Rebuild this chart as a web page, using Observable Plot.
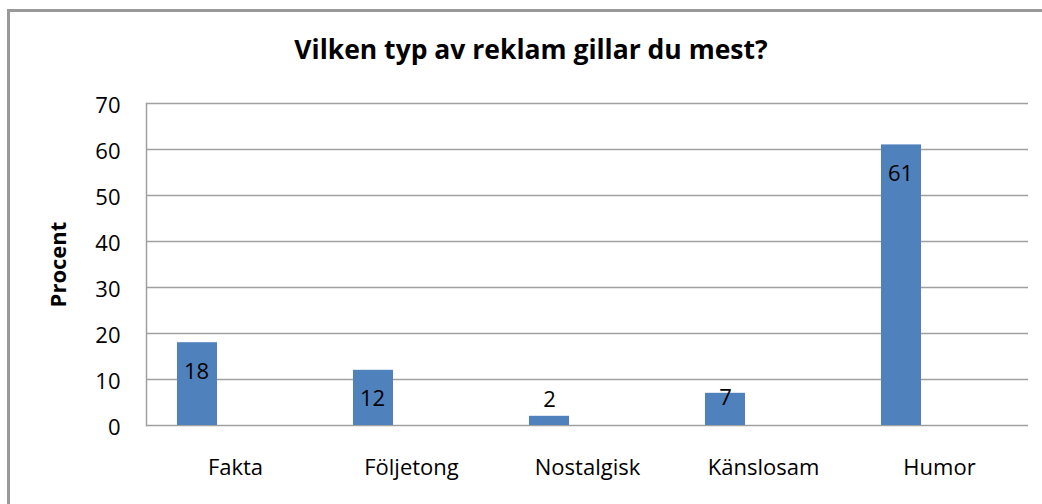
<!DOCTYPE html>
<html>
<head>
<meta charset="utf-8">
<script src="https://cdn.jsdelivr.net/npm/d3@7"></script>
<script src="https://cdn.jsdelivr.net/npm/@observablehq/plot@0.6"></script>
<style>
  html, body { margin: 0; padding: 0; background: #fff; }
  #chart { position: relative; width: 1042px; height: 504px; overflow: hidden; font-family: "Open Sans", sans-serif; }
  #frame { position: absolute; left: 7px; top: 9px; right: -5px; bottom: -5px; border-top: 3px solid #999; border-left: 3px solid #999; }
  #title { position: absolute; left: 531px; top: 34px; transform: translateX(-50%); white-space: nowrap;
           font-size: 26.5px; line-height: 30px; font-weight: 700; color: #000; margin: 0; }
  #plot { position: absolute; left: 0; top: 0; }
</style>
</head>
<body>
<div id="chart">
  <div id="frame"></div>
  <h2 id="title">Vilken typ av reklam gillar du mest?</h2>
  <div id="plot"></div>
</div>
<script>
const categories = ["Fakta", "Följetong", "Nostalgisk", "Känslosam", "Humor"];
const values = [18, 12, 2, 7, 61];
const yTicks = [0, 10, 20, 30, 40, 50, 60, 70];
const yLabel = "Procent";

const data = categories.map((c, i) => ({category: c, value: values[i]}));
const barColor = "#4f81bd";
const gridColor = "#a0a0a0";
const fs = 22;

const chart = Plot.plot({
  width: 1042,
  height: 504,
  marginLeft: 146,
  marginRight: 14,
  marginTop: 103,
  marginBottom: 79,
  style: {fontFamily: "'Open Sans', sans-serif", fontSize: fs + "px", color: "#000", background: "transparent"},
  x: {domain: categories, padding: 0, label: null},
  y: {domain: [0, 70], label: null},
  marks: [
    Plot.gridY(yTicks, {stroke: gridColor, strokeOpacity: 1, strokeWidth: 1.5}),
    Plot.frame({anchor: "left", stroke: gridColor, strokeWidth: 1.5}),
    Plot.axisY(yTicks, {tickSize: 0, tickPadding: 26, fontSize: fs, dy: 2, label: null}),
    Plot.axisX({tickSize: 0, tickPadding: 34, fontSize: fs, label: null}),
    Plot.barY(data, {x: "category", y: "value", fill: barColor, insetLeft: 30, insetRight: 106}),
    Plot.text(data.filter(d => d.value >= 10), {x: "category", y: "value", text: d => String(d.value), dx: -39, dy: 29, fontSize: fs, fill: "#000", lineAnchor: "middle"}),
    Plot.text(data.filter(d => d.value >= 5 && d.value < 10), {x: "category", y: "value", text: d => String(d.value), dx: -38, dy: 5, fontSize: fs, fill: "#000", lineAnchor: "middle"}),
    Plot.text(data.filter(d => d.value < 5), {x: "category", y: "value", text: d => String(d.value), dx: -38, dy: -16, fontSize: fs, fill: "#000", lineAnchor: "middle"}),
    Plot.text([yLabel], {frameAnchor: "left", textAnchor: "middle", rotate: -90, dx: -88, fontSize: fs, fontWeight: "bold", fill: "#000", lineAnchor: "middle"})
  ]
});
document.getElementById("plot").appendChild(chart);
</script>
</body>
</html>
